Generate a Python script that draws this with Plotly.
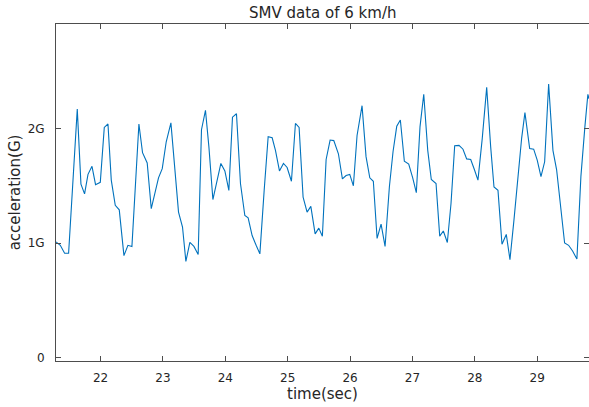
import plotly.graph_objects as go

time_s = [
    21.286, 21.355, 21.424, 21.488, 21.627, 21.686, 21.744, 21.799, 21.863, 21.920,
    21.996, 22.060, 22.119, 22.172, 22.236, 22.300, 22.375, 22.439, 22.503, 22.615,
    22.673, 22.748, 22.813, 22.872, 22.929, 22.989, 23.053, 23.128, 23.186, 23.250,
    23.314, 23.368, 23.432, 23.497, 23.565, 23.618, 23.682, 23.737, 23.801, 23.865,
    23.929, 23.993, 24.057, 24.115, 24.179, 24.243, 24.313, 24.366, 24.430, 24.494,
    24.554, 24.623, 24.687, 24.751, 24.804, 24.868, 24.932, 24.991, 25.060, 25.124,
    25.183, 25.247, 25.311, 25.371, 25.440, 25.499, 25.556, 25.616, 25.680, 25.739,
    25.813, 25.877, 25.936, 25.995, 26.053, 26.112, 26.192, 26.256, 26.316, 26.373,
    26.433, 26.497, 26.561, 26.630, 26.689, 26.748, 26.806, 26.870, 26.940, 27.004,
    27.062, 27.121, 27.181, 27.245, 27.302, 27.378, 27.437, 27.495, 27.559, 27.618,
    27.677, 27.746, 27.810, 27.869, 27.934, 27.991, 28.050, 28.119, 28.190, 28.254,
    28.307, 28.371, 28.435, 28.504, 28.563, 28.627, 28.691, 28.750, 28.803, 28.879,
    28.943, 29.000, 29.060, 29.119, 29.183, 29.252, 29.311, 29.375, 29.439, 29.503,
    29.567, 29.636, 29.700, 29.764, 29.812, 29.830,
]

smv_g = [
    1.01, 0.98, 0.91, 0.91, 2.17, 1.515, 1.43, 1.60, 1.67, 1.51,
    1.53, 2.01, 2.04, 1.55, 1.33, 1.29, 0.89, 0.98, 0.97, 2.04,
    1.79, 1.70, 1.30, 1.43, 1.57, 1.65, 1.885, 2.05, 1.67, 1.27,
    1.14, 0.84, 1.005, 0.97, 0.90, 1.99, 2.16, 1.84, 1.38, 1.535,
    1.695, 1.63, 1.46, 2.10, 2.13, 1.52, 1.24, 1.22, 1.065, 0.98,
    0.905, 1.46, 1.93, 1.92, 1.81, 1.63, 1.695, 1.66, 1.54, 2.045,
    2.01, 1.40, 1.27, 1.32, 1.08, 1.13, 1.06, 1.73, 1.90, 1.895,
    1.78, 1.56, 1.59, 1.60, 1.50, 1.94, 2.20, 1.755, 1.57, 1.54,
    1.04, 1.165, 0.97, 1.49, 1.80, 2.02, 2.075, 1.715, 1.69, 1.57,
    1.44, 2.015, 2.30, 1.81, 1.555, 1.52, 1.06, 1.105, 1.005, 1.345,
    1.85, 1.853, 1.82, 1.735, 1.73, 1.645, 1.55, 1.915, 2.36, 1.84,
    1.49, 1.46, 0.99, 1.075, 0.855, 1.20, 1.58, 1.915, 2.14, 1.825,
    1.82, 1.725, 1.58, 1.71, 2.39, 1.81, 1.64, 1.30, 1.00, 0.98,
    0.93, 0.86, 1.58, 2.015, 2.30, 2.26,
]

x_ticks = [22, 23, 24, 25, 26, 27, 28, 29]
y_ticks = [0, 1, 2]
y_tick_text = ["0", "1G", "2G"]

axis_color = "#4d4d4d"
text_color = "#262626"
font_family = "DejaVu Sans, Liberation Sans, sans-serif"

fig = go.Figure()
fig.add_trace(go.Scatter(
    x=time_s, y=smv_g, mode="lines",
    line=dict(color="#0072BD", width=1.1),
    showlegend=False, hoverinfo="skip",
))

fig.update_layout(
    width=589, height=407,
    margin=dict(l=56, r=0, t=24, b=46),
    paper_bgcolor="white", plot_bgcolor="white",
    font=dict(family=font_family, size=12, color=text_color),
    title=dict(text="SMV data of 6 km/h", x=0.548, xanchor="center",
               y=0.968, yanchor="middle",
               font=dict(family=font_family, size=15, color=text_color)),
)

fig.update_xaxes(
    range=[21.286, 29.83], tickvals=x_ticks,
    ticks="inside", ticklen=5, tickcolor=axis_color, tickwidth=1,
    showline=True, linecolor=axis_color, linewidth=1, mirror="ticks",
    showgrid=False, zeroline=False,
    tickfont=dict(size=12, color=text_color), ticklabelstandoff=6,
    title=dict(text="time(sec)", font=dict(size=15, color=text_color), standoff=2),
)
fig.update_yaxes(
    range=[-0.031, 2.914], tickvals=y_ticks, ticktext=y_tick_text,
    ticks="inside", ticklen=5, tickcolor=axis_color, tickwidth=1,
    showline=True, linecolor=axis_color, linewidth=1, mirror="ticks",
    showgrid=False, zeroline=False,
    tickfont=dict(size=12, color=text_color), ticklabelstandoff=8,
    title=dict(text="acceleration(G)", font=dict(size=15, color=text_color), standoff=3),
)

fig.write_html("out.html")
